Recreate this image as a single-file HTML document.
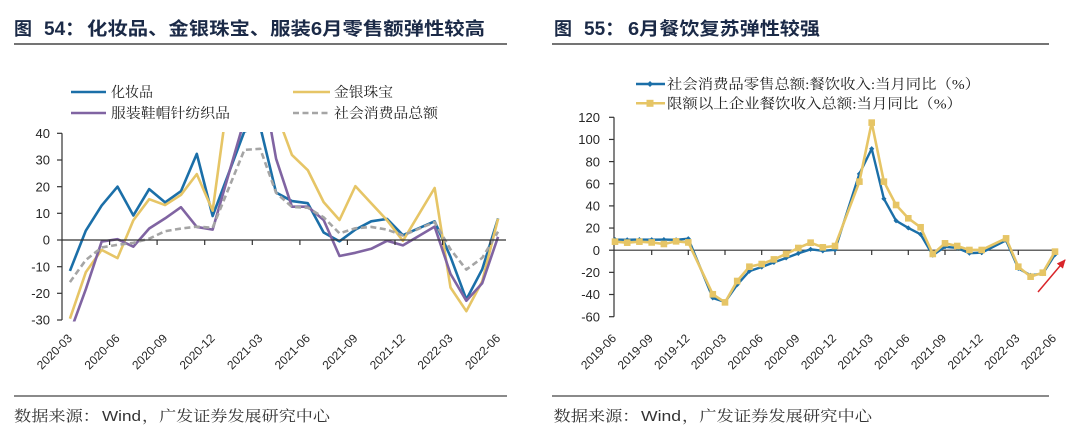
<!DOCTYPE html>
<html><head><meta charset="utf-8"><style>
html,body{margin:0;padding:0;background:#fff;}
svg{display:block;}
.t{font-family:"Liberation Sans","Noto Sans CJK SC",sans-serif;font-weight:bold;fill:#1b2a47;}
.lg{font-family:"Liberation Serif","Noto Serif CJK SC",serif;font-size:14px;fill:#222;}
.ft{font-family:"Liberation Serif","Noto Serif CJK SC",serif;font-size:15px;fill:#333;}
.fs{font-family:"Liberation Sans",sans-serif;font-size:15px;fill:#333;}
.ax{font-family:"Liberation Sans",sans-serif;font-size:13px;fill:#262626;}
.xl{font-family:"Liberation Sans",sans-serif;font-size:12px;fill:#262626;}
</style></head><body>
<svg width="1080" height="434" viewBox="0 0 1080 434" xmlns="http://www.w3.org/2000/svg">
<defs>
<clipPath id="cl"><rect x="60" y="132" width="452" height="189.5"/></clipPath>
<marker id="sq" markerUnits="userSpaceOnUse" markerWidth="8" markerHeight="8" refX="4" refY="4"><rect x="0.7" y="0.7" width="6.6" height="6.6" fill="#e6c566"/></marker>
<marker id="dm" markerUnits="userSpaceOnUse" markerWidth="6" markerHeight="6" refX="3" refY="3"><path d="M3 0.4 L5.6 3 L3 5.6 L0.4 3Z" fill="#1b6fa8"/></marker>
<marker id="ah" markerUnits="userSpaceOnUse" markerWidth="10" markerHeight="10" refX="8" refY="5" orient="auto"><path d="M0 1 L9 5 L0 9Z" fill="#d9252a"/></marker>
</defs>

<!-- LEFT TITLE -->
<text class="t" x="14" y="35" font-size="18">图</text>
<text class="t" x="44" y="35" font-size="19">54：</text>
<text class="t" x="87" y="35" font-size="18" textLength="398" lengthAdjust="spacingAndGlyphs">化妆品、金银珠宝、服装6月零售额弹性较高</text>
<line x1="14" y1="44" x2="507" y2="44" stroke="#222" stroke-width="1.3"/>

<!-- LEFT LEGEND -->
<line x1="71" y1="92" x2="106" y2="92" stroke="#1b6fa8" stroke-width="2.5"/>
<text class="lg" x="111" y="97" textLength="42" lengthAdjust="spacingAndGlyphs">化妆品</text>
<line x1="293" y1="92" x2="330" y2="92" stroke="#e6c566" stroke-width="2.5"/>
<text class="lg" x="334" y="97" textLength="59" lengthAdjust="spacingAndGlyphs">金银珠宝</text>
<line x1="71" y1="113" x2="106" y2="113" stroke="#8064a2" stroke-width="2.5"/>
<text class="lg" x="111" y="118" textLength="119" lengthAdjust="spacingAndGlyphs">服装鞋帽针纺织品</text>
<line x1="293" y1="113" x2="330" y2="113" stroke="#a5a5a5" stroke-width="2.5" stroke-dasharray="6,3.5"/>
<text class="lg" x="334" y="118" textLength="104" lengthAdjust="spacingAndGlyphs">社会消费品总额</text>

<!-- LEFT AXES -->
<g stroke="#333" stroke-width="1.2">
<line x1="62" y1="133.3" x2="62" y2="320"/>
<line x1="57" y1="133.3" x2="62" y2="133.3"/><line x1="57" y1="160" x2="62" y2="160"/><line x1="57" y1="186.7" x2="62" y2="186.7"/><line x1="57" y1="213.3" x2="62" y2="213.3"/><line x1="57" y1="240" x2="62" y2="240"/><line x1="57" y1="266.7" x2="62" y2="266.7"/><line x1="57" y1="293.3" x2="62" y2="293.3"/><line x1="57" y1="320" x2="62" y2="320"/>
</g>
<g class="ax" text-anchor="end">
<text x="50" y="138">40</text><text x="50" y="164.7">30</text><text x="50" y="191.4">20</text><text x="50" y="218">10</text><text x="50" y="244.7">0</text><text x="50" y="271.4">-10</text><text x="50" y="298">-20</text><text x="50" y="324.7">-30</text>
</g>

<!-- LEFT SERIES -->
<g clip-path="url(#cl)" fill="none" stroke-linejoin="round" stroke-width="2.6">
<polyline stroke="#1b6fa8" points="69.93,270.93 85.79,230.67 101.64,205.60 117.50,186.67 133.36,215.47 149.21,189.07 165.07,202.40 180.93,191.20 196.79,153.87 212.64,216.00 244.36,131.47 260.21,126.67 276.07,192.53 291.93,201.07 307.79,203.20 323.64,232.53 339.50,241.33 355.36,229.60 371.21,221.33 387.07,218.93 402.93,235.20 434.64,221.33 450.50,256.80 466.36,299.47 482.21,269.33 498.07,218.40"/>
<polyline stroke="#e6c566" points="69.93,318.67 85.79,272.27 101.64,249.87 117.50,258.13 133.36,220.27 149.21,199.20 165.07,205.07 180.93,194.93 196.79,174.13 212.64,210.67 244.36,-22.67 260.21,-78.13 276.07,112.00 291.93,154.93 307.79,170.13 323.64,202.13 339.50,220.00 355.36,186.13 371.21,203.20 387.07,220.27 402.93,240.80 434.64,188.00 450.50,287.47 466.36,311.20 482.21,281.33 498.07,218.67"/>
<polyline stroke="#8064a2" points="69.93,332.80 85.79,289.33 101.64,241.60 117.50,239.20 133.36,246.67 149.21,228.53 165.07,218.40 180.93,207.20 196.79,226.93 212.64,229.60 244.36,120.00 260.21,69.33 276.07,158.67 291.93,206.67 307.79,206.67 323.64,220.00 339.50,256.00 355.36,252.80 371.21,248.80 387.07,240.80 402.93,245.33 434.64,226.67 450.50,273.87 466.36,300.80 482.21,283.20 498.07,236.80"/>
<polyline stroke="#a5a5a5" stroke-dasharray="6,3.5" points="69.93,282.13 85.79,260.00 101.64,247.47 117.50,244.80 133.36,242.93 149.21,238.67 165.07,231.20 180.93,228.53 196.79,226.67 212.64,227.73 244.36,149.87 260.21,148.80 276.07,192.80 291.93,206.93 307.79,207.73 323.64,217.33 339.50,233.33 355.36,228.27 371.21,226.93 387.07,229.60 402.93,235.47 434.64,222.13 450.50,249.33 466.36,269.60 482.21,257.87 498.07,231.73"/>
</g>
<g stroke="#333" stroke-width="1.2">
<line x1="62" y1="240" x2="506" y2="240"/>
<line x1="109.6" y1="240" x2="109.6" y2="245"/><line x1="157.1" y1="240" x2="157.1" y2="245"/><line x1="204.7" y1="240" x2="204.7" y2="245"/><line x1="252.3" y1="240" x2="252.3" y2="245"/><line x1="299.9" y1="240" x2="299.9" y2="245"/><line x1="347.4" y1="240" x2="347.4" y2="245"/><line x1="395" y1="240" x2="395" y2="245"/><line x1="442.6" y1="240" x2="442.6" y2="245"/><line x1="490.1" y1="240" x2="490.1" y2="245"/>
</g>
<g class="xl" text-anchor="end">
<text transform="translate(72.9,339) rotate(-45)">2020-03</text>
<text transform="translate(120.5,339) rotate(-45)">2020-06</text>
<text transform="translate(168.1,339) rotate(-45)">2020-09</text>
<text transform="translate(215.6,339) rotate(-45)">2020-12</text>
<text transform="translate(263.2,339) rotate(-45)">2021-03</text>
<text transform="translate(310.8,339) rotate(-45)">2021-06</text>
<text transform="translate(358.4,339) rotate(-45)">2021-09</text>
<text transform="translate(405.9,339) rotate(-45)">2021-12</text>
<text transform="translate(453.5,339) rotate(-45)">2022-03</text>
<text transform="translate(501.1,339) rotate(-45)">2022-06</text>
</g>

<!-- LEFT FOOTER -->
<line x1="14" y1="396" x2="507" y2="396" stroke="#444" stroke-width="1.2"/>
<text class="ft" x="14" y="421" textLength="86" lengthAdjust="spacingAndGlyphs">数据来源：</text>
<text class="fs" x="102" y="421" textLength="39" lengthAdjust="spacingAndGlyphs">Wind</text>
<text class="ft" x="142" y="421" textLength="188" lengthAdjust="spacingAndGlyphs">，广发证券发展研究中心</text>

<!-- RIGHT TITLE -->
<text class="t" x="554" y="35" font-size="18">图</text>
<text class="t" x="584" y="35" font-size="19">55：</text>
<text class="t" x="628" y="35" font-size="18" textLength="192" lengthAdjust="spacingAndGlyphs">6月餐饮复苏弹性较强</text>
<line x1="552" y1="44" x2="1049" y2="44" stroke="#222" stroke-width="1.3"/>

<!-- RIGHT LEGEND -->
<line x1="636" y1="84" x2="665" y2="84" stroke="#1b6fa8" stroke-width="2.5"/>
<path d="M650 81 L653 84 L650 87 L647 84Z" fill="#1b6fa8"/>
<text class="lg" x="667" y="89" textLength="313" lengthAdjust="spacingAndGlyphs">社会消费品零售总额:餐饮收入:当月同比（%）</text>
<line x1="636" y1="103.3" x2="665" y2="103.3" stroke="#e6c566" stroke-width="2.5"/>
<rect x="646.5" y="99.8" width="7" height="7" fill="#e6c566"/>
<text class="lg" x="667" y="108.5" textLength="295" lengthAdjust="spacingAndGlyphs">限额以上企业餐饮收入总额:当月同比（%）</text>

<!-- RIGHT AXES -->
<g stroke="#333" stroke-width="1.2">
<line x1="614" y1="117.3" x2="614" y2="316.7"/>
<line x1="609" y1="117.3" x2="614" y2="117.3"/><line x1="609" y1="139.45" x2="614" y2="139.45"/><line x1="609" y1="161.6" x2="614" y2="161.6"/><line x1="609" y1="183.75" x2="614" y2="183.75"/><line x1="609" y1="205.9" x2="614" y2="205.9"/><line x1="609" y1="228.05" x2="614" y2="228.05"/><line x1="609" y1="250.2" x2="614" y2="250.2"/><line x1="609" y1="272.35" x2="614" y2="272.35"/><line x1="609" y1="294.5" x2="614" y2="294.5"/><line x1="609" y1="316.7" x2="614" y2="316.7"/>
</g>
<g class="ax" text-anchor="end">
<text x="600" y="122">120</text><text x="600" y="144.1">100</text><text x="600" y="166.3">80</text><text x="600" y="188.4">60</text><text x="600" y="210.6">40</text><text x="600" y="232.7">20</text><text x="600" y="254.9">0</text><text x="600" y="277">-20</text><text x="600" y="299.2">-40</text><text x="600" y="321.4">-60</text>
</g>
<g stroke="#333" stroke-width="1.2">
<line x1="614" y1="250.2" x2="1055" y2="250.2"/>
<line x1="651.7" y1="250.2" x2="651.7" y2="255"/><line x1="688.3" y1="250.2" x2="688.3" y2="255"/><line x1="725" y1="250.2" x2="725" y2="255"/><line x1="761.7" y1="250.2" x2="761.7" y2="255"/><line x1="798.3" y1="250.2" x2="798.3" y2="255"/><line x1="835" y1="250.2" x2="835" y2="255"/><line x1="871.7" y1="250.2" x2="871.7" y2="255"/><line x1="908.3" y1="250.2" x2="908.3" y2="255"/><line x1="945" y1="250.2" x2="945" y2="255"/><line x1="981.7" y1="250.2" x2="981.7" y2="255"/><line x1="1018.3" y1="250.2" x2="1018.3" y2="255"/><line x1="1055" y1="250.2" x2="1055" y2="255"/>
</g>

<!-- RIGHT SERIES -->
<g fill="none" stroke-linejoin="round">
<polyline stroke="#1b6fa8" stroke-width="2.4" marker-start="url(#dm)" marker-mid="url(#dm)" marker-end="url(#dm)" points="615.0,239.57 627.2,239.79 639.4,239.57 651.7,239.68 663.9,239.57 676.1,239.79 688.3,238.68 712.8,297.93 725.0,302.03 737.2,284.64 749.4,271.13 761.7,267.03 773.9,262.38 786.1,257.95 798.3,253.41 810.6,249.31 822.8,250.86 835.0,249.76 859.4,173.89 871.7,148.75 883.9,198.81 896.1,220.74 908.3,227.94 920.6,234.36 932.8,255.18 945.0,246.77 957.2,247.99 969.4,253.19 981.7,252.64 1006.1,240.34 1018.3,268.36 1030.6,275.34 1042.8,273.57 1055.0,254.63"/>
<polyline stroke="#e6c566" stroke-width="2.6" marker-start="url(#sq)" marker-mid="url(#sq)" marker-end="url(#sq)" points="615.0,241.67 627.2,242.67 639.4,241.67 651.7,242.45 663.9,244.00 676.1,241.34 688.3,242.45 712.8,294.28 725.0,302.36 737.2,280.99 749.4,266.70 761.7,264.04 773.9,259.39 786.1,253.97 798.3,247.99 810.6,242.67 822.8,247.32 835.0,245.99 859.4,181.65 871.7,122.62 883.9,181.65 896.1,205.01 908.3,218.30 920.6,227.27 932.8,253.97 945.0,243.33 957.2,245.99 969.4,249.98 981.7,249.98 1006.1,238.35 1018.3,266.70 1030.6,276.67 1042.8,272.68 1055.0,251.64"/>
</g>
<line x1="1038" y1="292" x2="1065" y2="260" stroke="#d9252a" stroke-width="1.5" marker-end="url(#ah)"/>

<g class="xl" text-anchor="end">
<text transform="translate(617,339) rotate(-45)">2019-06</text>
<text transform="translate(653.7,339) rotate(-45)">2019-09</text>
<text transform="translate(690.3,339) rotate(-45)">2019-12</text>
<text transform="translate(727,339) rotate(-45)">2020-03</text>
<text transform="translate(763.7,339) rotate(-45)">2020-06</text>
<text transform="translate(800.3,339) rotate(-45)">2020-09</text>
<text transform="translate(837,339) rotate(-45)">2020-12</text>
<text transform="translate(873.7,339) rotate(-45)">2021-03</text>
<text transform="translate(910.3,339) rotate(-45)">2021-06</text>
<text transform="translate(947,339) rotate(-45)">2021-09</text>
<text transform="translate(983.7,339) rotate(-45)">2021-12</text>
<text transform="translate(1020.3,339) rotate(-45)">2022-03</text>
<text transform="translate(1057,339) rotate(-45)">2022-06</text>
</g>

<!-- RIGHT FOOTER -->
<line x1="552" y1="396" x2="1049" y2="396" stroke="#444" stroke-width="1.2"/>
<text class="ft" x="553.5" y="421" textLength="86" lengthAdjust="spacingAndGlyphs">数据来源：</text>
<text class="fs" x="641" y="421" textLength="40" lengthAdjust="spacingAndGlyphs">Wind</text>
<text class="ft" x="682" y="421" textLength="190" lengthAdjust="spacingAndGlyphs">，广发证券发展研究中心</text>
</svg>
</body></html>
